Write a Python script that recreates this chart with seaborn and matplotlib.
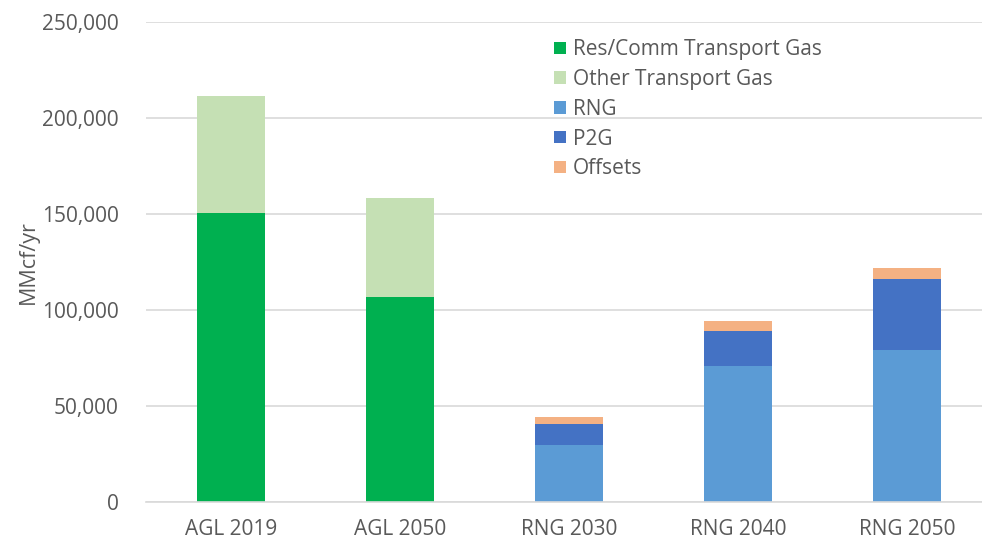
import numpy as np
import pandas as pd
import seaborn as sns
import matplotlib.pyplot as plt
from matplotlib.patches import Patch
from matplotlib.ticker import FuncFormatter

# chart values (MMcf/yr)
categories = ['AGL 2019', 'AGL 2050', 'RNG 2030', 'RNG 2040', 'RNG 2050']
res_comm = [150700, 106600, 0, 0, 0]
other_transport = [60800, 51900, 0, 0, 0]
rng = [0, 0, 29700, 71000, 79200]
p2g = [0, 0, 10700, 18000, 36800]
offsets = [0, 0, 4000, 5400, 5700]

series_names = ['Res/Comm Transport Gas', 'Other Transport Gas', 'RNG', 'P2G', 'Offsets']
series_colors = ['#00B050', '#C5E0B4', '#5B9BD5', '#4472C4', '#F4B183']

sns.set_theme(style='white')
plt.rcParams['font.family'] = ['Open Sans', 'DejaVu Sans']

layers = np.array([res_comm, other_transport, rng, p2g, offsets])
cum = np.cumsum(layers, axis=0)

fig, ax = plt.subplots(figsize=(9.82, 5.43), dpi=100)
fig.subplots_adjust(left=0.149, right=1.0, bottom=0.0755, top=0.9595)

# draw cumulative totals from the top layer down so lower layers cover them
for i in range(len(series_names) - 1, -1, -1):
    df = pd.DataFrame({'cat': categories, 'val': cum[i]})
    sns.barplot(data=df, x='cat', y='val', color=series_colors[i], width=0.4,
                saturation=1, linewidth=0, ax=ax, zorder=2)

ax.set_ylim(0, 250000)
ax.set_xlim(-0.5, 4.444)
ax.set_yticks(np.arange(0, 250001, 50000))
ax.yaxis.set_major_formatter(FuncFormatter(lambda v, p: f'{int(v):,}'))
ax.grid(axis='y', color='#d9d9d9', linewidth=1.2, zorder=0)
ax.set_axisbelow(True)
for s in ['top', 'right', 'left']:
    ax.spines[s].set_visible(False)
ax.spines['bottom'].set_color('#d9d9d9')
ax.spines['bottom'].set_linewidth(1.2)
ax.tick_params(axis='both', length=0, labelsize=15, colors='#595959')
ax.tick_params(axis='y', pad=20)
ax.tick_params(axis='x', pad=12)
ax.set_xlabel('')
ax.set_ylabel('MMcf/yr', fontsize=15.5, color='#595959', labelpad=2)

handles = [Patch(facecolor=c, edgecolor='none') for c in series_colors]
ax.legend(handles, series_names, loc='upper left', bbox_to_anchor=(0.466, 1.003),
          frameon=False, fontsize=15, labelcolor='#595959', handlelength=0.55,
          handleheight=0.55, handletextpad=0.35, labelspacing=0.42)

fig.savefig('out.png', dpi=100)
